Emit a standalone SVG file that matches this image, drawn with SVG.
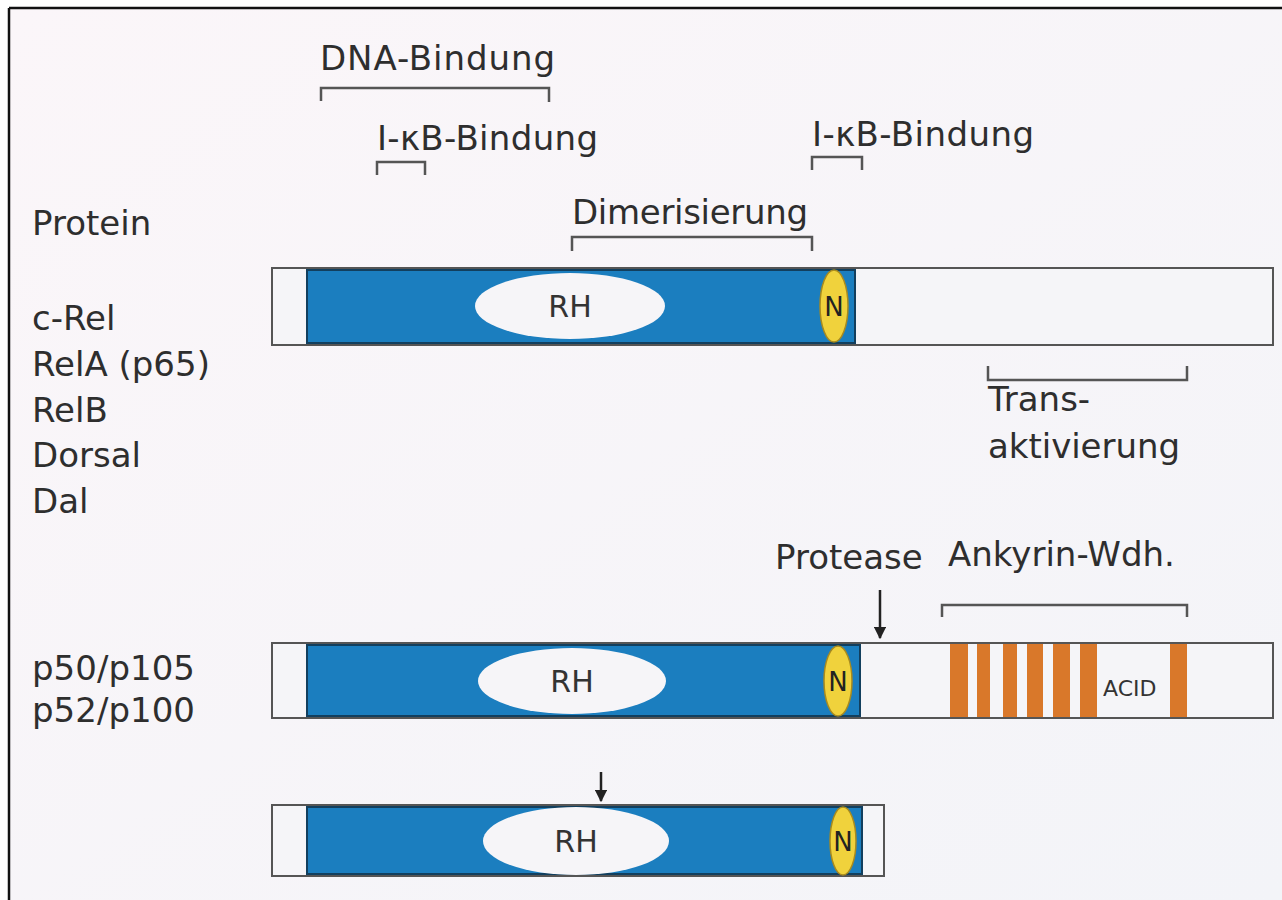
<svg xmlns="http://www.w3.org/2000/svg" width="1282" height="900" viewBox="0 0 1282 900">
<defs>
<style>
.t{font-family:"DejaVu Sans","Liberation Sans",sans-serif;font-size:34px;fill:#2e2e2e}
.lbl{font-family:"DejaVu Sans","Liberation Sans",sans-serif;font-size:32px;fill:#2e2e2e}
.rh{font-family:"DejaVu Sans","Liberation Sans",sans-serif;font-size:30px;fill:#333;text-anchor:middle}
.n{font-family:"DejaVu Sans","Liberation Sans",sans-serif;font-size:26px;fill:#222;text-anchor:middle}
.br{fill:none;stroke:#555;stroke-width:2.5}
.bar{fill:#f5f5f8;stroke:#555;stroke-width:2}
.blue{fill:#1b7ebf;stroke:#123f5e;stroke-width:2}
.ell{fill:#f6f5f8}
.nn{fill:#f0d23c;stroke:#a88a1e;stroke-width:1.5}
.or{fill:#d9782a}
.ar{stroke:#222;stroke-width:2.5;fill:none}
</style>
<marker id="ah" viewBox="0 0 10 10" refX="9" refY="5" markerWidth="5" markerHeight="5" orient="auto">
<path d="M0,0 L10,5 L0,10 z" fill="#222"/>
</marker>
<linearGradient id="bg" x1="0" y1="0" x2="1" y2="1">
<stop offset="0" stop-color="#fbf6f9"/>
<stop offset="1" stop-color="#f3f4f8"/>
</linearGradient>
</defs>
<rect x="0" y="0" width="1282" height="900" fill="#ffffff"/>
<rect x="9" y="8" width="1273" height="892" fill="url(#bg)"/>
<line x1="9" y1="8" x2="1282" y2="8" stroke="#111" stroke-width="2.5"/>
<line x1="9" y1="8" x2="9" y2="900" stroke="#111" stroke-width="2.5"/>

<g id="labels">
<text class="t" x="320" y="70" textLength="235">DNA-Bindung</text>
<text class="t" x="377" y="150" textLength="221">I-κB-Bindung</text>
<text class="t" x="572" y="224" textLength="236">Dimerisierung</text>
<text class="t" x="812" y="146" textLength="222">I-κB-Bindung</text>
<text class="t" x="32" y="235">Protein</text>
<text class="t" x="32" y="330">c-Rel</text>
<text class="t" x="32" y="376">RelA (p65)</text>
<text class="t" x="32" y="422">RelB</text>
<text class="t" x="32" y="467">Dorsal</text>
<text class="t" x="32" y="513">Dal</text>
<text class="t" x="988" y="411">Trans-</text>
<text class="t" x="988" y="458" textLength="192">aktivierung</text>
<text class="t" x="775" y="569">Protease</text>
<text class="t" x="948" y="566">Ankyrin-Wdh.</text>
<text class="t" x="32" y="680" textLength="163">p50/p105</text>
<text class="t" x="32" y="722" textLength="163">p52/p100</text>
</g>

<g id="brackets">
<path class="br" d="M321,101 V88 H549 V102"/>
<path class="br" d="M377,175 V162 H425 V175"/>
<path class="br" d="M572,251 V237 H812 V251"/>
<path class="br" d="M812,170 V157 H862 V170"/>
<path class="br" d="M988,366 V380 H1187 V366"/>
<path class="br" d="M942,617 V605 H1187 V617"/>
</g>

<g id="protein-relA">
<rect class="bar" x="272" y="268" width="1001" height="77"/>
<rect class="blue" x="307" y="270" width="548" height="73"/>
<ellipse class="ell" cx="570" cy="306" rx="95" ry="33"/>
<text class="rh" x="570" y="317">RH</text>
<ellipse class="nn" cx="834" cy="306" rx="14" ry="36"/>
<text class="n" x="834" y="316">N</text>
</g>

<g id="protein-p105">
<rect class="bar" x="272" y="643" width="1001" height="75"/>
<rect class="blue" x="307" y="645" width="553" height="71"/>
<ellipse class="ell" cx="572" cy="681" rx="94" ry="33"/>
<text class="rh" x="572" y="692">RH</text>
<ellipse class="nn" cx="838" cy="681" rx="14" ry="35"/>
<text class="n" x="838" y="691">N</text>
<rect class="or" x="950" y="644" width="18" height="73"/>
<rect class="or" x="977" y="644" width="13" height="73"/>
<rect class="or" x="1003" y="644" width="14" height="73"/>
<rect class="or" x="1027" y="644" width="16" height="73"/>
<rect class="or" x="1053" y="644" width="17" height="73"/>
<rect class="or" x="1080" y="644" width="17" height="73"/>
<rect class="or" x="1170" y="644" width="17" height="73" fill="#c98a3a"/>
<text x="1103" y="696" font-family="DejaVu Sans, Liberation Sans, sans-serif" font-size="22" fill="#333">ACID</text>
</g>

<g id="protein-p50">
<rect class="bar" x="272" y="805" width="612" height="71"/>
<rect class="blue" x="307" y="807" width="555" height="67"/>
<ellipse class="ell" cx="576" cy="841" rx="93" ry="34"/>
<text class="rh" x="576" y="852">RH</text>
<ellipse class="nn" cx="843" cy="841" rx="13" ry="34"/>
<text class="n" x="843" y="851">N</text>
</g>

<g id="connectors">
<line class="ar" x1="880" y1="590" x2="880" y2="638" marker-end="url(#ah)"/>
<line class="ar" x1="601" y1="772" x2="601" y2="801" marker-end="url(#ah)"/>
</g>
</svg>
